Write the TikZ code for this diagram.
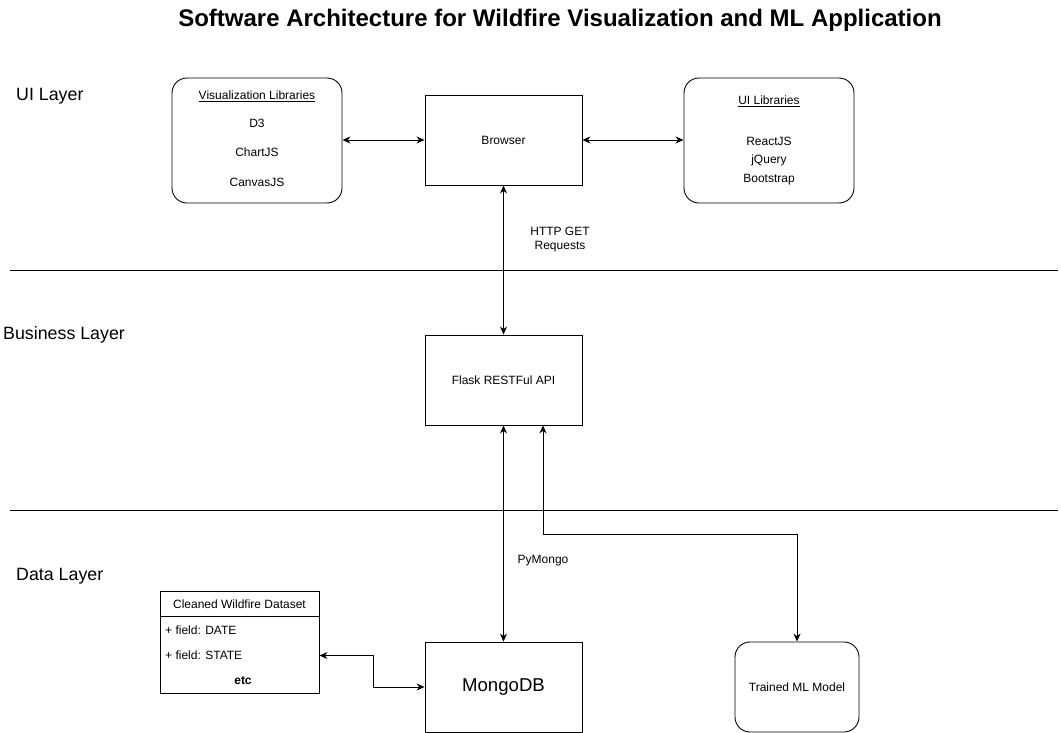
\documentclass[tikz,border=0pt]{standalone}
\usepackage{fontspec}
\setmainfont{Liberation Sans}
\usetikzlibrary{arrows.meta}
\begin{document}
\begin{tikzpicture}[x=1pt,y=-1pt,
  box/.style={draw,line width=0.9pt,inner sep=0pt},
  rbox/.style={draw,line width=0.9pt,rounded corners=15pt,inner sep=0pt},
  conn/.style={line width=0.9pt,{Stealth[length=8pt,width=7pt]}-{Stealth[length=8pt,width=7pt]}},
  sep/.style={line width=0.8pt},
  lbl/.style={font=\fontsize{12}{14}\selectfont,align=center,inner sep=0pt},
  layer/.style={font=\fontsize{17.8}{21}\selectfont,anchor=west,inner sep=0pt}]
\useasboundingbox[fill=white] (0,0) rectangle (1061,733);
\node[font=\fontsize{24}{28}\selectfont\bfseries] (title) at (560,20) {Software Architecture for Wildfire Visualization and ML Application};
\node[layer] (ui) at (16,96) {UI Layer};
\node[layer] (bl) at (3,335) {Business Layer};
\node[layer] (dl) at (16,576) {Data Layer};
% separators
\coordinate (s1a) at (10,270); \coordinate (s1b) at (1058,270);
\coordinate (s2a) at (10,510); \coordinate (s2b) at (1058,510);
\draw[sep] (s1a) -- (s1b);
\draw[sep] (s2a) -- (s2b);
% UI layer boxes
\node[rbox,minimum width=170pt,minimum height=125pt] (viz) at (257,140.5) {};
\node[lbl] (vizt) at (257,96) {\underline{Visualization Libraries}};
\node[lbl] (d3) at (257,123) {D3};
\node[lbl] (chart) at (257,152) {ChartJS};
\node[lbl] (canvas) at (257,182) {CanvasJS};
\node[box,minimum width=157pt,minimum height=90pt] (browser) at (503.5,140) {};
\node[lbl] at (browser.center) {Browser};
\node[rbox,minimum width=170pt,minimum height=125pt] (uilib) at (769,140.5) {};
\node[lbl] (uilt) at (769,101) {\underline{UI Libraries}};
\node[lbl] (react) at (769,141) {ReactJS};
\node[lbl] (jq) at (769,160) {jQuery};
\node[lbl] (boot) at (769,180) {Bootstrap};
% business
\node[box,minimum width=157pt,minimum height=90pt] (flask) at (503.5,380) {};
\node[lbl] at (flask.center) {Flask RESTFul API};
% data
\node[box,minimum width=157pt,minimum height=90pt] (mongo) at (503.5,687) {};
\node[font=\fontsize{18.6}{22}\selectfont,inner sep=0pt] at (mongo.center) {MongoDB};
\node[rbox,minimum width=124pt,minimum height=90pt] (ml) at (797,687) {};
\node[lbl] at (ml.center) {Trained ML Model};
\node[box,minimum width=159pt,minimum height=102pt] (ds) at (239.5,642) {};
\coordinate (dsl) at (160,616); \coordinate (dsr) at (319,616);
\draw[line width=0.9pt] (dsl) -- (dsr);
\node[lbl] (dst) at (239.5,604) {Cleaned Wildfire Dataset};
\node[lbl,anchor=west] (f1) at (165,630) {+ field: DATE};
\node[lbl,anchor=west] (f2) at (165,655.5) {+ field: STATE};
\node[lbl,font=\fontsize{12}{14}\selectfont\bfseries] (etc) at (243,681) {etc};
% connectors
\draw[conn] (viz.east |- 0,140) -- (browser.west |- 0,140);
\draw[conn] (browser.east |- 0,140) -- (uilib.west |- 0,140);
\draw[conn] (browser.south) -- (flask.north);
\node[lbl] (http) at (560,240) {HTTP GET\\Requests};
\draw[conn] (flask.south) -- (mongo.north);
\node[lbl] (pym) at (543,561) {PyMongo};
\coordinate (k1) at (543,534);
\coordinate (k2) at (797,534);
\draw[conn] (flask.south -| k1) -- (k1) -- (k2) -- (ml.north);
\coordinate (j1) at (373,655.5);
\coordinate (j2) at (373,687);
\draw[conn] (ds.east |- j1) -- (j1) -- (j2) -- (mongo.west);
\end{tikzpicture}
\end{document}
